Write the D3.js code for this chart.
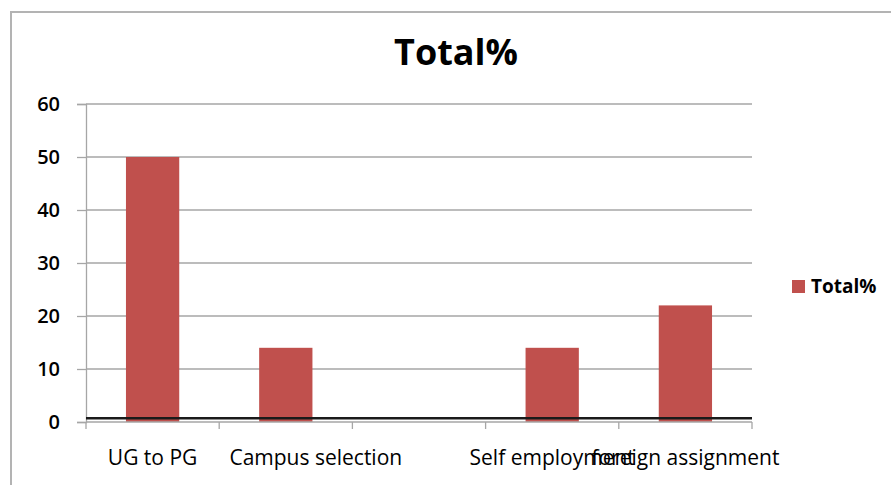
<!DOCTYPE html>
<html>
<head>
<meta charset="utf-8">
<script src="https://cdn.jsdelivr.net/npm/d3@7"></script>
<style>
  body { margin: 0; background: #fff; }
  text { font-family: "Open Sans", sans-serif; fill: #000; }
</style>
</head>
<body>
<script>
const categories = ["UG to PG", "Campus selection", "", "Self employment", "foreign assignment"];
const totals = [50, 14, 0, 14, 22];
const yTicks = [0, 10, 20, 30, 40, 50, 60];
const seriesName = "Total%";
const baseLineValue = 0.7;

const width = 891, height = 485;
const plot = { left: 86, right: 752, top: 104, bottom: 422 };

const svg = d3.select("body").append("svg")
  .attr("width", width)
  .attr("height", height);

// outer chart border (only top and left visible in the picture)
svg.append("path")
  .attr("d", "M11,486 L11,12 L892,12")
  .attr("fill", "none")
  .attr("stroke", "#b3b3b3")
  .attr("stroke-width", 2);

svg.append("text")
  .attr("x", 456)
  .attr("y", 65)
  .attr("text-anchor", "middle")
  .attr("font-size", 36)
  .attr("font-weight", "bold")
  .text(seriesName);

const x = d3.scaleBand()
  .domain(d3.range(categories.length))
  .range([plot.left, plot.right]);

const y = d3.scaleLinear()
  .domain([0, 60])
  .range([plot.bottom, plot.top]);

// gridlines
svg.append("g")
  .selectAll("line")
  .data(yTicks.filter(d => d > 0))
  .join("line")
  .attr("x1", plot.left)
  .attr("x2", plot.right)
  .attr("y1", d => y(d))
  .attr("y2", d => y(d))
  .attr("stroke", "#a6a6a6")
  .attr("stroke-width", 1.3);

// y axis
const yAxis = svg.append("g")
  .attr("transform", "translate(" + plot.left + ",0)")
  .call(d3.axisLeft(y).tickValues(yTicks).tickSize(9).tickPadding(17));
yAxis.select(".domain").attr("stroke", "#a6a6a6").attr("stroke-width", 1.3);
yAxis.selectAll(".tick line").attr("stroke", "#a6a6a6").attr("stroke-width", 1.3);
yAxis.selectAll(".tick text")
  .attr("font-size", 20)
  .attr("font-weight", 600)
  .attr("font-family", "Open Sans, sans-serif")
  .attr("fill", "#111");

// bars
const barW = x.bandwidth() * 0.4;
svg.append("g")
  .selectAll("rect")
  .data(totals)
  .join("rect")
  .attr("x", (d, i) => x(i) + (x.bandwidth() - barW) / 2)
  .attr("y", d => y(d))
  .attr("width", barW)
  .attr("height", d => y(0) - y(d))
  .attr("fill", "#c0504d");

// x axis line and category ticks
const boundaries = categories.map((c, i) => x(i)).concat([plot.right]);
svg.append("line")
  .attr("x1", plot.left).attr("x2", plot.right)
  .attr("y1", y(0)).attr("y2", y(0))
  .attr("stroke", "#a6a6a6").attr("stroke-width", 1.3);
svg.append("g")
  .selectAll("line")
  .data(boundaries)
  .join("line")
  .attr("x1", d => d).attr("x2", d => d)
  .attr("y1", y(0)).attr("y2", y(0) + 7)
  .attr("stroke", "#a6a6a6").attr("stroke-width", 1.3);

// dark line just above zero
svg.append("line")
  .attr("x1", plot.left).attr("x2", plot.right)
  .attr("y1", y(baseLineValue)).attr("y2", y(baseLineValue))
  .attr("stroke", "#1a1a1a")
  .attr("stroke-width", 2.6);

// category labels (second label sits a bit right of its band in the original)
svg.append("g")
  .selectAll("text")
  .data(categories)
  .join("text")
  .attr("x", (d, i) => x(i) + x.bandwidth() / 2 + (i === 1 ? 30 : 0))
  .attr("y", 465)
  .attr("text-anchor", "middle")
  .attr("font-size", 21)
  .attr("font-weight", 500)
  .attr("fill", "#111")
  .text(d => d);

// legend
const legend = svg.append("g").attr("transform", "translate(792,280)");
legend.append("rect")
  .attr("width", 13).attr("height", 13)
  .attr("fill", "#c0504d");
legend.append("text")
  .attr("x", 19).attr("y", 13)
  .attr("font-size", 19)
  .attr("font-weight", "bold")
  .text(seriesName);
</script>
</body>
</html>
